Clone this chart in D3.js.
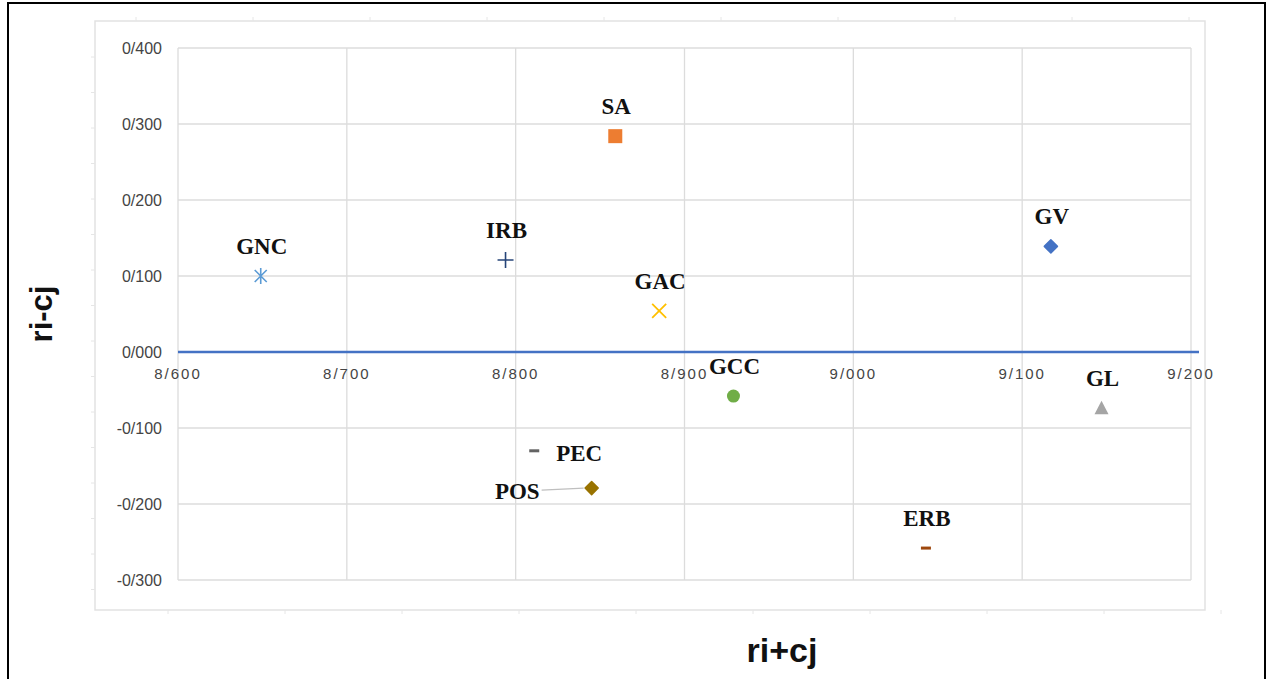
<!DOCTYPE html>
<html>
<head>
<meta charset="utf-8">
<script src="https://cdn.jsdelivr.net/npm/d3@7"></script>
<style>
  body { margin: 0; background: #fff; }
  svg { display: block; }
</style>
</head>
<body>
<svg width="1268" height="679"></svg>
<script>
// factors
const names = ["GV", "SA", "GL", "GAC", "GNC", "GCC", "IRB", "ERB", "PEC", "POS"];
const riPlusCj = [9.117, 8.859, 9.147, 8.885, 8.649, 8.929, 8.794, 9.043, 8.811, 8.845];
const riMinusCj = [0.139, 0.284, -0.074, 0.054, 0.100, -0.058, 0.121, -0.258, -0.130, -0.179];
const shapes = ["diamond", "square", "triangle", "x", "asterisk", "circle", "plus", "dash", "dash", "diamond"];
const colors = ["#4472C4", "#ED7D31", "#A5A5A5", "#FFC000", "#5B9BD5", "#70AD47", "#264478", "#9E480E", "#636363", "#997300"];
const labelPos = ["top", "top", "top", "top", "top", "top", "top", "top", "right", "leftline"];

const xTicks = [8.6, 8.7, 8.8, 8.9, 9.0, 9.1, 9.2];
const yTicks = [-0.3, -0.2, -0.1, 0, 0.1, 0.2, 0.3, 0.4];

const fmt = (v) => {
  const s = Math.abs(v).toFixed(3).replace(".", "/");
  return (v < 0 ? "-" : "") + s;
};

const svg = d3.select("svg");

// picture frame and chart frame
svg.append("rect").attr("x", 8).attr("y", 3).attr("width", 1257).attr("height", 690)
  .attr("fill", "none").attr("stroke", "#000").attr("stroke-width", 2);
svg.append("rect").attr("x", 95).attr("y", 21).attr("width", 1110).attr("height", 589)
  .attr("fill", "none").attr("stroke", "#e2e2e2").attr("stroke-width", 1.5);

// faint ticks on the chart frame
d3.range(136, 1205, 117).forEach((tx) => {
  svg.append("line").attr("x1", tx).attr("x2", tx).attr("y1", 17).attr("y2", 21).attr("stroke", "#e6e6e6");
  svg.append("line").attr("x1", tx + 32).attr("x2", tx + 32).attr("y1", 610).attr("y2", 614).attr("stroke", "#e6e6e6");
});
d3.range(57, 610, 35.5).forEach((ty) => {
  svg.append("line").attr("x1", 91).attr("x2", 95).attr("y1", ty).attr("y2", ty).attr("stroke", "#e6e6e6");
});

const x = d3.scaleLinear().domain([8.6, 9.2]).range([178, 1191]);
const y = d3.scaleLinear().domain([-0.3, 0.4]).range([580, 48]);

// gridlines
const grid = svg.append("g");
grid.selectAll(".gx").data(xTicks).join("line")
  .attr("x1", (d) => x(d)).attr("x2", (d) => x(d))
  .attr("y1", y(0.4)).attr("y2", y(-0.3))
  .attr("stroke", "#dcdcdc").attr("stroke-width", 1.3);
grid.selectAll(".gy").data(yTicks.filter((d) => d !== 0)).join("line")
  .attr("x1", x(8.6)).attr("x2", x(9.2))
  .attr("y1", (d) => y(d)).attr("y2", (d) => y(d))
  .attr("stroke", "#dcdcdc").attr("stroke-width", 1.3);

// zero axis line
svg.append("line").attr("x1", x(8.6)).attr("x2", x(9.2) + 8)
  .attr("y1", y(0)).attr("y2", y(0))
  .attr("stroke", "#4472C4").attr("stroke-width", 2.5);

// y tick labels
svg.selectAll(".yl").data(yTicks).join("text")
  .attr("x", 162).attr("y", (d) => y(d) + 5.5)
  .attr("text-anchor", "end")
  .attr("font-family", "Liberation Sans, Arial, sans-serif")
  .attr("font-size", 16).attr("fill", "#444")
  .text((d) => fmt(d));

// x tick labels (under the zero line)
svg.selectAll(".xl").data(xTicks).join("text")
  .attr("x", (d) => x(d)).attr("y", y(0) + 27)
  .attr("text-anchor", "middle")
  .attr("font-family", "Liberation Sans, Arial, sans-serif")
  .attr("font-size", 15).attr("letter-spacing", 2).attr("fill", "#444")
  .text((d) => fmt(d));

// axis titles
svg.append("text").attr("transform", `translate(52,${y(0.05)}) rotate(-90)`)
  .attr("text-anchor", "middle")
  .attr("font-family", "Liberation Sans, Arial, sans-serif")
  .attr("font-weight", "bold").attr("font-size", 31).attr("fill", "#111")
  .text("ri-cj");
svg.append("text").attr("x", 782).attr("y", 662)
  .attr("text-anchor", "middle")
  .attr("font-family", "Liberation Sans, Arial, sans-serif")
  .attr("font-weight", "bold").attr("font-size", 34).attr("fill", "#111")
  .text("ri+cj");

function marker(g, shape, color) {
  if (shape === "diamond") {
    g.append("path").attr("d", d3.symbol(d3.symbolDiamond2, 110)()).attr("fill", color)
      .attr("stroke", color).attr("stroke-width", 1.5).attr("stroke-linejoin", "round");
  } else if (shape === "square") {
    g.append("rect").attr("x", -7).attr("y", -7).attr("width", 14).attr("height", 14).attr("fill", color);
  } else if (shape === "triangle") {
    g.append("path").attr("d", "M0,-7.5L7,6L-7,6Z").attr("fill", color);
  } else if (shape === "circle") {
    g.append("circle").attr("r", 6.5).attr("fill", color);
  } else if (shape === "x") {
    g.append("path").attr("d", "M-7,-7L7,7M-7,7L7,-7").attr("stroke", color).attr("stroke-width", 1.8);
  } else if (shape === "plus") {
    g.append("path").attr("d", "M-8,0L8,0M0,-8L0,8").attr("stroke", color).attr("stroke-width", 1.6);
  } else if (shape === "asterisk") {
    g.append("path").attr("d", "M-6,-6L6,6M-6,6L6,-6M0,-8L0,8").attr("stroke", color).attr("stroke-width", 1.6);
  } else if (shape === "dash") {
    g.append("rect").attr("x", -5).attr("y", -1.5).attr("width", 10).attr("height", 3).attr("fill", color);
  }
}

names.forEach((name, i) => {
  const px = x(riPlusCj[i]);
  const py = y(riMinusCj[i]);
  const g = svg.append("g").attr("transform", `translate(${px},${py})`);
  marker(g, shapes[i], colors[i]);

  const lab = svg.append("text")
    .attr("font-family", "Liberation Serif, Times New Roman, serif")
    .attr("font-weight", "bold").attr("font-size", 23).attr("fill", "#111")
    .text(name);
  if (labelPos[i] === "top") {
    lab.attr("x", px + 1).attr("y", py - 22).attr("text-anchor", "middle");
  } else if (labelPos[i] === "right") {
    lab.attr("x", px + 22).attr("y", py + 10).attr("text-anchor", "start");
  } else {
    lab.attr("x", px - 52).attr("y", py + 11).attr("text-anchor", "end");
    svg.append("line").attr("x1", px - 50).attr("x2", px - 8)
      .attr("y1", py + 2).attr("y2", py)
      .attr("stroke", "#bfbfbf").attr("stroke-width", 1.2);
  }
});
</script>
</body>
</html>
